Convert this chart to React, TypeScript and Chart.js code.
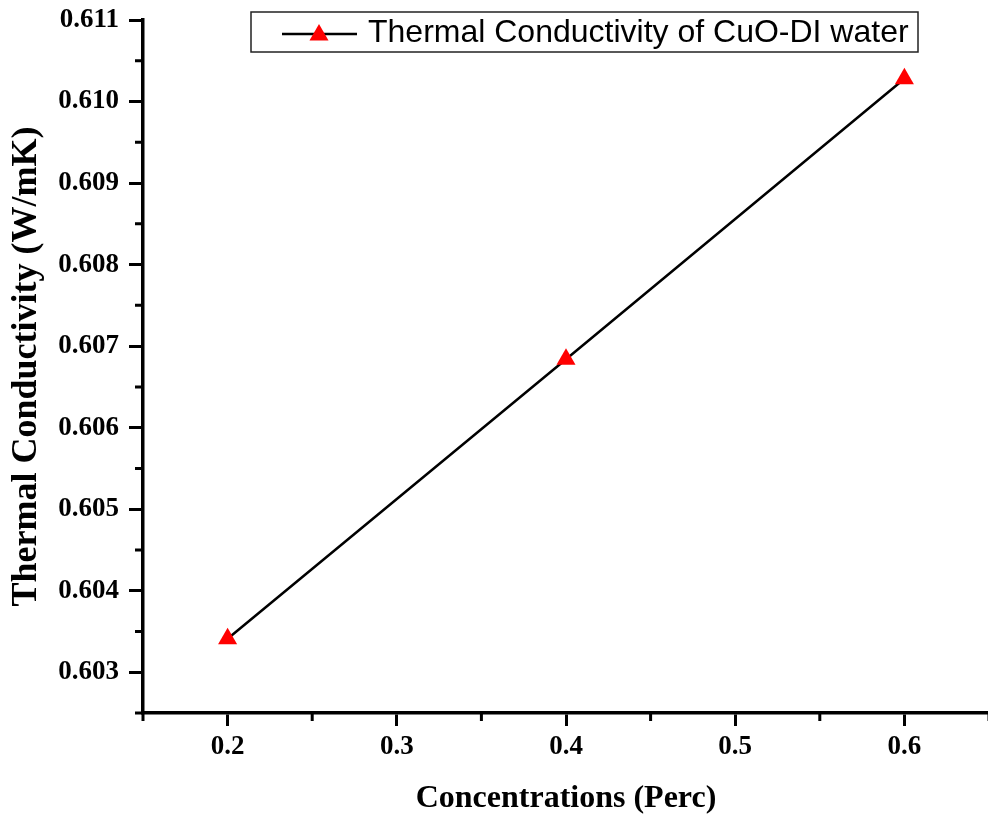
import React, { useEffect, useRef } from "react";
import { Chart, registerables } from "chart.js";

Chart.register(...registerables);

const concentrations = [0.2, 0.4, 0.6];
const conductivity = [0.60341, 0.60684, 0.61028];
const xMajorTicks = [0.2, 0.3, 0.4, 0.5, 0.6];
const xMinorTicks = [0.15, 0.25, 0.35, 0.45, 0.55, 0.65];
const yMajorTicks = [0.603, 0.604, 0.605, 0.606, 0.607, 0.608, 0.609, 0.61, 0.611];
const yMinorTicks = [0.6025, 0.6035, 0.6045, 0.6055, 0.6065, 0.6075, 0.6085, 0.6095, 0.6105];
const seriesLabel = "Thermal Conductivity of CuO-DI water";
const xTitle = "Concentrations (Perc)";
const yTitle = "Thermal Conductivity (W/mK)";

const SERIF = "'Liberation Serif', 'Times New Roman', serif";
const SANS = "'Liberation Sans', Arial, sans-serif";

function drawTriangle(ctx: CanvasRenderingContext2D, x: number, y: number, r: number) {
  ctx.beginPath();
  ctx.moveTo(x, y - r);
  ctx.lineTo(x + r * Math.sin((2 * Math.PI) / 3), y - r * Math.cos((2 * Math.PI) / 3));
  ctx.lineTo(x + r * Math.sin((4 * Math.PI) / 3), y - r * Math.cos((4 * Math.PI) / 3));
  ctx.closePath();
  ctx.fill();
}

const minorTicksPlugin = {
  id: "minorTicks",
  afterDraw(chart: any) {
    const ctx = chart.ctx as CanvasRenderingContext2D;
    const xs = chart.scales.x;
    const ys = chart.scales.y;
    ctx.save();
    ctx.strokeStyle = "#000";
    ctx.lineWidth = 3;
    ctx.beginPath();
    for (const v of xMinorTicks) {
      const px = xs.getPixelForValue(v);
      ctx.moveTo(px, xs.top);
      ctx.lineTo(px, xs.top + 8);
    }
    for (const v of yMinorTicks) {
      const py = ys.getPixelForValue(v);
      ctx.moveTo(ys.right, py);
      ctx.lineTo(ys.right - 8, py);
    }
    ctx.stroke();
    ctx.restore();
  },
};

const legendPlugin = {
  id: "customLegend",
  afterDraw(chart: any) {
    const ctx = chart.ctx as CanvasRenderingContext2D;
    const area = chart.chartArea;
    const boxLeft = area.left + 108;
    const boxTop = area.top - 8;
    const boxW = 667;
    const boxH = 40;
    ctx.save();
    ctx.fillStyle = "#fff";
    ctx.fillRect(boxLeft, boxTop, boxW, boxH);
    ctx.strokeStyle = "#222";
    ctx.lineWidth = 1.5;
    ctx.strokeRect(boxLeft, boxTop, boxW, boxH);
    const cy = boxTop + 22;
    ctx.strokeStyle = "#000";
    ctx.lineWidth = 2.5;
    ctx.beginPath();
    ctx.moveTo(boxLeft + 31, cy);
    ctx.lineTo(boxLeft + 106, cy);
    ctx.stroke();
    ctx.fillStyle = "#ff0000";
    drawTriangle(ctx, boxLeft + 68, cy + 1, 11);
    ctx.fillStyle = "#000";
    ctx.font = `32px ${SANS}`;
    ctx.textBaseline = "middle";
    ctx.textAlign = "left";
    ctx.fillText(seriesLabel, boxLeft + 117, boxTop + 21);
    ctx.restore();
  },
};

export default function App() {
  const canvasRef = useRef<HTMLCanvasElement | null>(null);

  useEffect(() => {
    if (!canvasRef.current) return;
    const chart = new Chart(canvasRef.current, {
      type: "scatter",
      data: {
        datasets: [
          {
            label: seriesLabel,
            data: concentrations.map((x, i) => ({ x, y: conductivity[i] })),
            showLine: true,
            borderColor: "#000",
            borderWidth: 2.5,
            pointStyle: "triangle",
            pointRadius: 11,
            pointHoverRadius: 11,
            pointBackgroundColor: "#ff0000",
            pointBorderWidth: 0,
            pointBorderColor: "#ff0000",
          },
        ],
      },
      options: {
        animation: false,
        responsive: false,
        devicePixelRatio: 1,
        layout: { padding: { top: 20, right: 7, left: 0, bottom: 0 } },
        plugins: {
          legend: { display: false },
          tooltip: { enabled: false },
        },
        scales: {
          x: {
            type: "linear",
            position: "bottom",
            min: 0.15,
            max: 0.65,
            afterBuildTicks: (scale: any) => {
              scale.ticks = xMajorTicks.map((v) => ({ value: v }));
            },
            afterFit: (scale: any) => {
              scale.height = 106;
              scale.paddingLeft = 0;
              scale.paddingRight = 0;
            },
            ticks: {
              callback: (v: any) => Number(v).toFixed(1),
              font: { family: SERIF, size: 27, weight: "bold" },
              color: "#000",
              padding: 5,
              maxRotation: 0,
              autoSkip: false,
            },
            grid: {
              drawOnChartArea: false,
              drawTicks: true,
              tickLength: 13,
              tickWidth: 3,
              tickColor: "#000",
            },
            border: { display: true, color: "#000", width: 3.5 },
            title: {
              display: true,
              text: xTitle,
              font: { family: SERIF, size: 32, weight: "bold" },
              color: "#000",
              padding: { top: 0, bottom: 1 },
            },
          },
          y: {
            type: "linear",
            position: "left",
            min: 0.6025,
            max: 0.611,
            afterBuildTicks: (scale: any) => {
              scale.ticks = yMajorTicks.map((v) => ({ value: v }));
            },
            afterFit: (scale: any) => {
              scale.width = 143;
              scale.paddingTop = 0;
              scale.paddingBottom = 0;
            },
            ticks: {
              callback: (v: any) => Number(v).toFixed(3),
              font: { family: SERIF, size: 27, weight: "bold" },
              color: "#000",
              padding: 10,
              autoSkip: false,
            },
            grid: {
              drawOnChartArea: false,
              drawTicks: true,
              tickLength: 14,
              tickWidth: 3,
              tickColor: "#000",
            },
            border: { display: true, color: "#000", width: 3.5 },
            title: {
              display: true,
              text: yTitle,
              font: { family: SERIF, size: 36, weight: "bold" },
              color: "#000",
              padding: { top: 5, bottom: 0 },
            },
          },
        },
      },
      plugins: [minorTicksPlugin, legendPlugin],
    });
    return () => chart.destroy();
  }, []);

  return (
    <div
      style={{
        position: "absolute",
        left: 0,
        top: 0,
        width: 988,
        height: 819,
        overflow: "hidden",
        background: "#fff",
      }}
    >
      <canvas ref={canvasRef} width={1000} height={819} style={{ display: "block", width: 1000, height: 819 }} />
    </div>
  );
}
